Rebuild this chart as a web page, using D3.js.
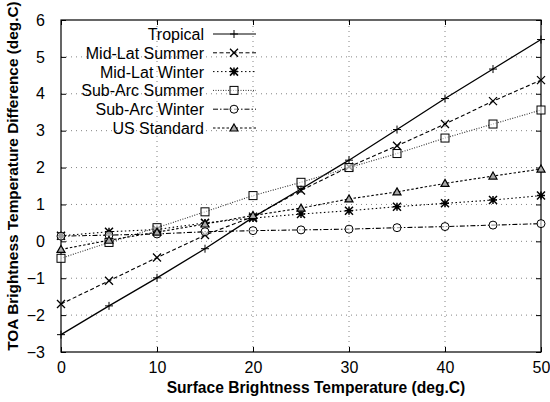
<!DOCTYPE html>
<html>
<head>
<meta charset="utf-8">
<script src="https://cdn.jsdelivr.net/npm/d3@7"></script>
<style>
  body { margin: 0; background: #fff; }
  svg text { font-family: "Liberation Sans", Arial, sans-serif; fill: #000; }
</style>
</head>
<body>
<svg id="chart" width="550" height="402"></svg>
<script>
// surface temperature (deg.C)
const temps = [0, 5, 10, 15, 20, 25, 30, 35, 40, 45, 50];

const tropical      = [-2.53, -1.75, -0.99, -0.2, 0.65, 1.42, 2.2, 3.03, 3.87, 4.67, 5.47];
const midLatSummer  = [-1.7, -1.07, -0.44, 0.17, 0.67, 1.38, 2.02, 2.59, 3.18, 3.8, 4.37];
const midLatWinter  = [0.15, 0.26, 0.32, 0.5, 0.63, 0.74, 0.83, 0.94, 1.03, 1.12, 1.24];
const subArcSummer  = [-0.46, -0.03, 0.37, 0.8, 1.24, 1.6, 2.0, 2.38, 2.8, 3.18, 3.56];
const subArcWinter  = [0.14, 0.17, 0.2, 0.26, 0.29, 0.31, 0.33, 0.37, 0.4, 0.44, 0.48];
const usStandard    = [-0.22, 0.03, 0.25, 0.47, 0.7, 0.9, 1.15, 1.34, 1.57, 1.77, 1.96];

const seriesNames = ['Tropical', 'Mid-Lat Summer', 'Mid-Lat Winter', 'Sub-Arc Summer', 'Sub-Arc Winter', 'US Standard'];
const seriesValues = [tropical, midLatSummer, midLatWinter, subArcSummer, subArcWinter, usStandard];
const markers = ['plus', 'cross', 'star', 'square', 'circle', 'triangle'];
const dashes = [null, '4,2.5', '1.5,2.5', '1,1.5', '5,2,1.5,2', '2.5,2'];
const strokes = ['#000', '#000', '#000', '#333', '#000', '#000'];

const xTicks = [0, 10, 20, 30, 40, 50];
const yTicks = [-3, -2, -1, 0, 1, 2, 3, 4, 5, 6];

const svg = d3.select('#chart');
const margin = {left: 61, right: 9, top: 20, bottom: 50};
const w = 550, h = 402;

const x = d3.scaleLinear().domain([0, 50]).range([margin.left, w - margin.right]);
const y = d3.scaleLinear().domain([-3, 6]).range([h - margin.bottom, margin.top]);

// grid
const grid = svg.append('g').attr('stroke', '#666').attr('stroke-width', 0.8)
  .attr('stroke-dasharray', '1,4');
xTicks.slice(1, -1).forEach(t => {
  grid.append('line').attr('x1', x(t)).attr('x2', x(t)).attr('y1', y(-3)).attr('y2', y(6));
});
yTicks.slice(1, -1).forEach(t => {
  grid.append('line').attr('y1', y(t)).attr('y2', y(t)).attr('x1', x(0)).attr('x2', x(50));
});

// axes (inward ticks, boxed)
const tickLen = 5;
svg.append('g').attr('transform', 'translate(0,' + y(-3) + ')')
  .call(d3.axisBottom(x).tickValues(xTicks).tickSize(-tickLen).tickPadding(10))
  .call(g => g.select('.domain').remove())
  .call(g => g.selectAll('text').attr('font-size', 16));
svg.append('g').attr('transform', 'translate(0,' + y(6) + ')')
  .call(d3.axisTop(x).tickValues(xTicks).tickSize(-tickLen).tickFormat(''))
  .call(g => g.select('.domain').remove());
svg.append('g').attr('transform', 'translate(' + x(0) + ',0)')
  .call(d3.axisLeft(y).tickValues(yTicks).tickSize(-tickLen).tickPadding(16))
  .call(g => g.select('.domain').remove())
  .call(g => g.selectAll('text').attr('font-size', 16));
svg.append('g').attr('transform', 'translate(' + x(50) + ',0)')
  .call(d3.axisRight(y).tickValues(yTicks).tickSize(-tickLen).tickFormat(''))
  .call(g => g.select('.domain').remove());
svg.append('rect')
  .attr('x', x(0)).attr('y', y(6))
  .attr('width', x(50) - x(0)).attr('height', y(-3) - y(6))
  .attr('fill', 'none').attr('stroke', '#000').attr('stroke-width', 1.2);

// axis titles
svg.append('text')
  .attr('x', 316).attr('y', 393)
  .attr('text-anchor', 'middle').attr('font-size', 15.6).attr('font-weight', 'bold')
  .text('Surface Brightness Temperature (deg.C)');
svg.append('text')
  .attr('transform', 'translate(18,176) rotate(-90)')
  .attr('text-anchor', 'middle').attr('font-size', 15.4).attr('font-weight', 'bold')
  .text('TOA Brightness Temperature Difference (deg.C)');

function drawMarker(g, type, cx, cy) {
  const s = 4;
  const m = g.append('g').attr('transform', 'translate(' + cx + ',' + cy + ')')
    .attr('fill', 'none').attr('stroke', '#000').attr('stroke-width', 1);
  if (type === 'plus') {
    m.append('path').attr('d', `M${-s},0H${s}M0,${-s}V${s}`);
  } else if (type === 'cross') {
    m.append('path').attr('d', `M${-s},${-s}L${s},${s}M${-s},${s}L${s},${-s}`).attr('stroke-width', 1.3);
  } else if (type === 'star') {
    m.append('path').attr('d', `M${-s},0H${s}M0,${-s}V${s}M${-s},${-s}L${s},${s}M${-s},${s}L${s},${-s}`)
      .attr('stroke-width', 1.5);
  } else if (type === 'square') {
    m.append('rect').attr('x', -s).attr('y', -s).attr('width', 2 * s).attr('height', 2 * s)
      .attr('fill', '#fff').attr('fill-opacity', 0.6);
  } else if (type === 'circle') {
    m.append('circle').attr('r', s).attr('fill', '#fff').attr('fill-opacity', 0.6);
  } else if (type === 'triangle') {
    m.append('path').attr('d', `M0,${-s}L${s},${s * 0.75}L${-s},${s * 0.75}Z`)
      .attr('fill', '#aaa').attr('stroke-width', 1.2);
  }
}

// series
const line = d3.line().x((d, i) => x(temps[i])).y(d => y(d));
const plot = svg.append('g');
seriesValues.forEach((vals, k) => {
  plot.append('path').datum(vals)
    .attr('d', line)
    .attr('fill', 'none')
    .attr('stroke', strokes[k])
    .attr('stroke-width', k === 0 ? 1.3 : 1.1)
    .attr('stroke-dasharray', dashes[k]);
  vals.forEach((v, i) => drawMarker(plot, markers[k], x(temps[i]), y(v)));
});

// legend
const legend = svg.append('g');
seriesNames.forEach((name, k) => {
  const ly = 34 + k * 18.8;
  legend.append('text').attr('x', 204).attr('y', ly + 6)
    .attr('text-anchor', 'end').attr('font-size', 16).text(name);
  legend.append('line').attr('x1', 213).attr('x2', 256).attr('y1', ly).attr('y2', ly)
    .attr('stroke', strokes[k]).attr('stroke-width', 1)
    .attr('stroke-dasharray', dashes[k]);
  drawMarker(legend, markers[k], 234, ly);
});
</script>
</body>
</html>
